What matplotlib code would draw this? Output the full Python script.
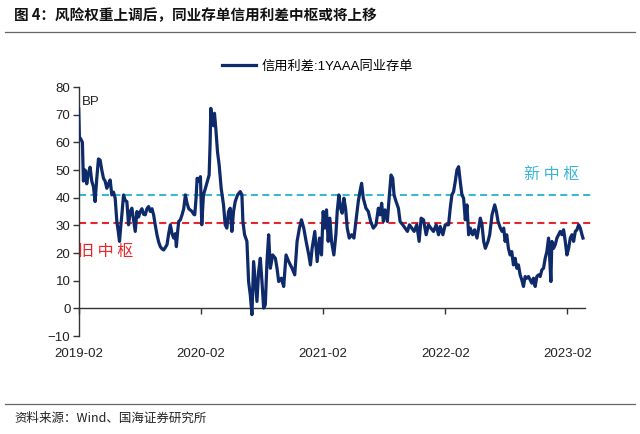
import matplotlib
matplotlib.use("Agg")
import matplotlib.pyplot as plt
import matplotlib.dates as mdates
import pandas as pd
from matplotlib.lines import Line2D

plt.rcParams['font.family'] = ['Liberation Sans', 'Noto Sans CJK SC', 'DejaVu Sans']

# ---------------- data ----------------
dates = [
    "2019-02-01", "2019-02-03", "2019-02-08", "2019-02-12", "2019-02-15", "2019-02-20", "2019-02-25",
    "2019-03-02", "2019-03-07", "2019-03-12", "2019-03-17", "2019-03-22", "2019-03-27",
    "2019-04-01", "2019-04-06", "2019-04-11", "2019-04-16", "2019-04-21", "2019-04-26",
    "2019-05-01", "2019-05-06", "2019-05-11", "2019-05-16", "2019-05-21", "2019-05-26", "2019-05-30",
    "2019-06-03", "2019-06-07", "2019-06-10", "2019-06-15", "2019-06-20", "2019-06-25", "2019-06-30",
    "2019-07-05", "2019-07-10", "2019-07-15", "2019-07-20", "2019-07-25", "2019-07-30",
    "2019-08-04", "2019-08-09", "2019-08-14", "2019-08-19", "2019-08-24", "2019-08-29",
    "2019-09-03", "2019-09-08", "2019-09-13", "2019-09-18", "2019-09-23", "2019-09-28",
    "2019-10-03", "2019-10-08", "2019-10-13", "2019-10-18", "2019-10-23", "2019-10-28",
    "2019-11-02", "2019-11-07", "2019-11-12", "2019-11-17", "2019-11-20", "2019-11-24", "2019-11-27",
    "2019-12-02", "2019-12-07", "2019-12-12", "2019-12-17", "2019-12-22", "2019-12-27",
    "2020-01-01", "2020-01-06", "2020-01-11", "2020-01-14", "2020-01-18", "2020-01-21", "2020-01-26", "2020-01-31",
    "2020-02-04", "2020-02-09", "2020-02-14", "2020-02-19", "2020-02-26", "2020-02-29",
    "2020-03-02", "2020-03-05", "2020-03-07", "2020-03-10", "2020-03-13", "2020-03-17", "2020-03-22", "2020-03-27",
    "2020-04-02", "2020-04-09", "2020-04-14", "2020-04-19", "2020-04-24", "2020-04-29",
    "2020-05-04", "2020-05-09", "2020-05-14", "2020-05-21", "2020-05-29",
    "2020-06-03", "2020-06-06", "2020-06-11", "2020-06-18", "2020-06-23", "2020-06-28",
    "2020-07-03", "2020-07-08", "2020-07-13", "2020-07-18", "2020-07-23", "2020-07-28",
    "2020-08-02", "2020-08-07", "2020-08-12", "2020-08-17", "2020-08-22", "2020-08-27",
    "2020-09-03", "2020-09-11", "2020-09-16", "2020-09-21", "2020-09-29",
    "2020-10-06", "2020-10-13", "2020-10-21", "2020-10-31",
    "2020-11-08", "2020-11-15", "2020-11-22", "2020-11-28",
    "2020-12-05", "2020-12-12", "2020-12-20", "2020-12-25", "2020-12-30",
    "2021-01-07", "2021-01-14", "2021-01-21", "2021-01-27",
    "2021-02-01", "2021-02-06", "2021-02-11", "2021-02-16", "2021-02-21", "2021-02-26",
    "2021-03-05", "2021-03-11", "2021-03-15", "2021-03-20", "2021-03-25", "2021-03-30",
    "2021-04-04", "2021-04-09", "2021-04-14", "2021-04-20", "2021-04-27",
    "2021-05-04", "2021-05-10", "2021-05-17", "2021-05-22", "2021-05-27",
    "2021-06-01", "2021-06-09", "2021-06-16", "2021-06-23",
    "2021-07-01", "2021-07-09", "2021-07-16", "2021-07-21", "2021-07-26", "2021-07-31",
    "2021-08-05", "2021-08-12", "2021-08-18", "2021-08-23", "2021-08-28",
    "2021-09-01", "2021-09-07", "2021-09-14", "2021-09-19", "2021-09-27",
    "2021-10-04", "2021-10-11", "2021-10-17", "2021-10-24", "2021-10-31",
    "2021-11-08", "2021-11-15", "2021-11-21", "2021-11-28",
    "2021-12-06", "2021-12-13", "2021-12-20", "2021-12-28",
    "2022-01-05", "2022-01-12", "2022-01-17", "2022-01-25",
    "2022-02-01", "2022-02-11", "2022-02-16", "2022-02-21", "2022-02-26",
    "2022-03-03", "2022-03-08", "2022-03-13", "2022-03-18", "2022-03-23", "2022-03-28",
    "2022-04-02", "2022-04-07", "2022-04-12", "2022-04-17", "2022-04-24", "2022-04-30",
    "2022-05-07", "2022-05-12", "2022-05-17", "2022-05-22", "2022-05-27",
    "2022-06-01", "2022-06-09", "2022-06-14", "2022-06-21", "2022-06-29",
    "2022-07-04", "2022-07-09", "2022-07-16", "2022-07-21", "2022-07-26", "2022-07-30",
    "2022-08-04", "2022-08-09", "2022-08-14", "2022-08-19", "2022-08-24", "2022-08-29",
    "2022-09-03", "2022-09-08", "2022-09-13", "2022-09-18", "2022-09-23", "2022-09-28",
    "2022-10-03", "2022-10-08", "2022-10-13", "2022-10-18", "2022-10-23", "2022-10-28",
    "2022-11-02", "2022-11-07", "2022-11-12", "2022-11-17", "2022-11-22", "2022-11-27",
    "2022-12-02", "2022-12-07", "2022-12-10", "2022-12-14", "2022-12-17", "2022-12-22", "2022-12-27",
    "2023-01-01", "2023-01-06", "2023-01-11", "2023-01-16", "2023-01-21", "2023-01-26", "2023-01-31",
    "2023-02-05", "2023-02-10", "2023-02-15", "2023-02-20", "2023-02-25",
    "2023-03-02", "2023-03-07", "2023-03-12", "2023-03-17", "2023-03-20",
]
spread_bp = [
    72, 62, 61, 60, 46, 50, 45,
    49, 51, 46, 44, 38.6, 47,
    54, 53.6, 50, 47, 46, 43.4,
    45, 46.4, 41, 42, 39.8, 31.4, 28,
    24.2, 30, 33.8, 41, 39, 38.6, 30.2,
    35, 36.2, 32, 27.8, 35, 33,
    35, 36, 34, 33.8, 36, 36.8,
    35, 36, 33.8, 30, 26.6, 24,
    22.3, 21.5, 21.1, 22, 23, 27,
    30.2, 27, 25.4, 27, 22.3, 28, 31.4,
    32, 33.8, 36, 41, 38, 36,
    35.5, 35, 34, 33.8, 40, 47, 46, 47.6,
    30.2, 41, 43, 45.2, 48.2, 60,
    72.3, 68, 68.7, 66, 70.5, 65, 56.6, 51.8,
    43.4, 37.4, 30.2, 29, 35, 36.2,
    27.8, 35, 38.6, 41, 42.2,
    41, 31.4, 26.6, 24.2, 9.7, 4.9,
    -2.3, 16.9, 9.7, 2.5, 13.3, 18.1,
    9.7, 0.1, 1.3, 16.9, 26.6, 14.5,
    19.3, 18.1, 14.5, 9.7, 10.9,
    7.9, 19.3, 16.9, 14.5,
    12.1, 24.2, 29, 32,
    29, 24.2, 19.3, 15.7, 21.7,
    27.8, 16.9, 25.4, 19.3,
    35, 29, 35.6, 24.2, 32.6, 24.2,
    19.3, 26.6, 35, 41, 36.2, 34.4,
    39.8, 36.2, 29, 25.4, 26.6,
    25.4, 31.4, 38.6, 42.2, 45.2,
    39.8, 36.2, 35, 31.4,
    29, 30.2, 36.2, 33.8, 38, 31.4,
    35.6, 31.4, 41, 48.2, 47,
    41, 38.6, 36.2, 31.4, 30.2,
    29, 27.8, 30.2, 29, 27.8,
    30.2, 24.2, 32.6, 32,
    26.6, 30.2, 29, 27.8,
    30.2, 26.6, 29.6, 26.6,
    30.2, 30.2, 36.2, 41, 42.2,
    45.8, 50, 51.2, 45.8, 41, 39.8,
    32, 37.4, 26.6, 29, 26.6, 28.4,
    25.4, 29, 32.6, 30.2, 24.2,
    21.7, 24.2, 26.6, 33.8, 37.4,
    35, 31.4, 29, 27.8, 29, 24.2,
    26.6, 21.7, 19.3, 20.5, 15.7, 18.1,
    14.5, 15.7, 12.1, 10.3, 7.9, 11.5,
    10.9, 11.5, 10.3, 9.1, 10.9, 7.9,
    11.5, 12.1, 11.5, 13.9, 14.5, 18.1,
    20.5, 25.4, 19.3, 9.7, 24.2, 21.7, 23,
    25.4, 26.6, 27.8, 26.6, 28.4, 24.2, 19.3,
    21.7, 25.4, 26.6, 24.2, 27.8,
    28.4, 30.2, 29, 26.6, 25.4,
]
old_center_bp = 31
new_center_bp = 41
tick_dates = ["2019-02-01", "2020-02-01", "2021-02-01", "2022-02-01", "2023-02-01"]
tick_labels = ["2019-02", "2020-02", "2021-02", "2022-02", "2023-02"]
y_ticks = [-10, 0, 10, 20, 30, 40, 50, 60, 70, 80]

title = "图 4：风险权重上调后，同业存单信用利差中枢或将上移"
series_name = "信用利差:1YAAA同业存单"
source = "资料来源：Wind、国海证券研究所"
new_label = "新 中 枢"
old_label = "旧 中 枢"

# ---------------- figure ----------------
x = pd.to_datetime(dates)
fig = plt.figure(figsize=(6.4, 4.34), dpi=100)
ax = fig.add_axes([0.1230, 0.2258, 0.8015, 0.5737])

navy = "#0E2A6B"
cyan = "#3DB6D6"
red = "#E5262B"
axis_col = "#333333"

ax.plot(x, spread_bp, color=navy, lw=2.3, solid_joinstyle="round", zorder=3,
        label=series_name)
ax.axhline(new_center_bp, color=cyan, lw=1.5, ls=(0, (3.4, 2.1)), zorder=2)
ax.axhline(old_center_bp, color=red, lw=1.5, ls=(0, (3.4, 2.1)), zorder=2)

ax.set_ylim(-10, 80)
ax.set_xlim(pd.Timestamp("2019-02-01"), pd.Timestamp("2023-04-15"))
ax.set_yticks(y_ticks)
ax.set_xticks(pd.to_datetime(tick_dates))
ax.set_xticklabels(tick_labels)

for s in ["top", "right"]:
    ax.spines[s].set_visible(False)
ax.spines["bottom"].set_position(("data", 0))
ax.spines["bottom"].set_bounds(mdates.date2num(pd.Timestamp("2019-02-01")),
                               mdates.date2num(pd.Timestamp("2023-03-25")))
for s in ["left", "bottom"]:
    ax.spines[s].set_color(axis_col)
    ax.spines[s].set_linewidth(1.0)

ax.tick_params(axis="y", direction="out", length=4, width=1.0, color=axis_col,
               labelsize=9.5, labelcolor="#222222", pad=2)
ax.tick_params(axis="x", direction="out", length=4.5, width=1.0, color=axis_col,
               labelsize=9.5, labelcolor="#222222", pad=24)

ax.text(0.006, 0.94, "BP", transform=ax.transAxes, fontsize=9.5, color="#222222",
        ha="left", va="center")

ax.text(pd.Timestamp("2022-12-17"), 48.2, new_label, color=cyan, fontsize=11.5,
        ha="center", va="center", family=["Noto Sans CJK SC", "DejaVu Sans"])
ax.text(pd.Timestamp("2019-01-30"), 20.6, old_label, color=red, fontsize=11.5,
        ha="left", va="center", family=["Noto Sans CJK SC", "DejaVu Sans"])

fig.legend(handles=[Line2D([], [], color=navy, lw=2.3)], labels=[series_name],
           loc="center", bbox_to_anchor=(0.496, 0.846), frameon=False,
           handlelength=2.6, handletextpad=0.4,
           prop={"family": ["Liberation Sans", "Noto Sans CJK SC"], "size": 9.5})

# title and source
fig.text(0.022, 0.965, title, fontsize=10.5, fontweight="bold", ha="left", va="center",
         family=["Noto Sans CJK SC", "DejaVu Sans"], color="#111111")
fig.add_artist(Line2D([0.008, 0.992], [0.926, 0.926], color="#666666", lw=0.9,
                      transform=fig.transFigure))
fig.add_artist(Line2D([0.008, 0.992], [0.069, 0.069], color="#666666", lw=0.9,
                      transform=fig.transFigure))
fig.text(0.022, 0.036, source, fontsize=9, ha="left", va="center", color="#222222",
         family=["Noto Sans CJK SC", "DejaVu Sans"])

fig.savefig("out.png", dpi=100)
